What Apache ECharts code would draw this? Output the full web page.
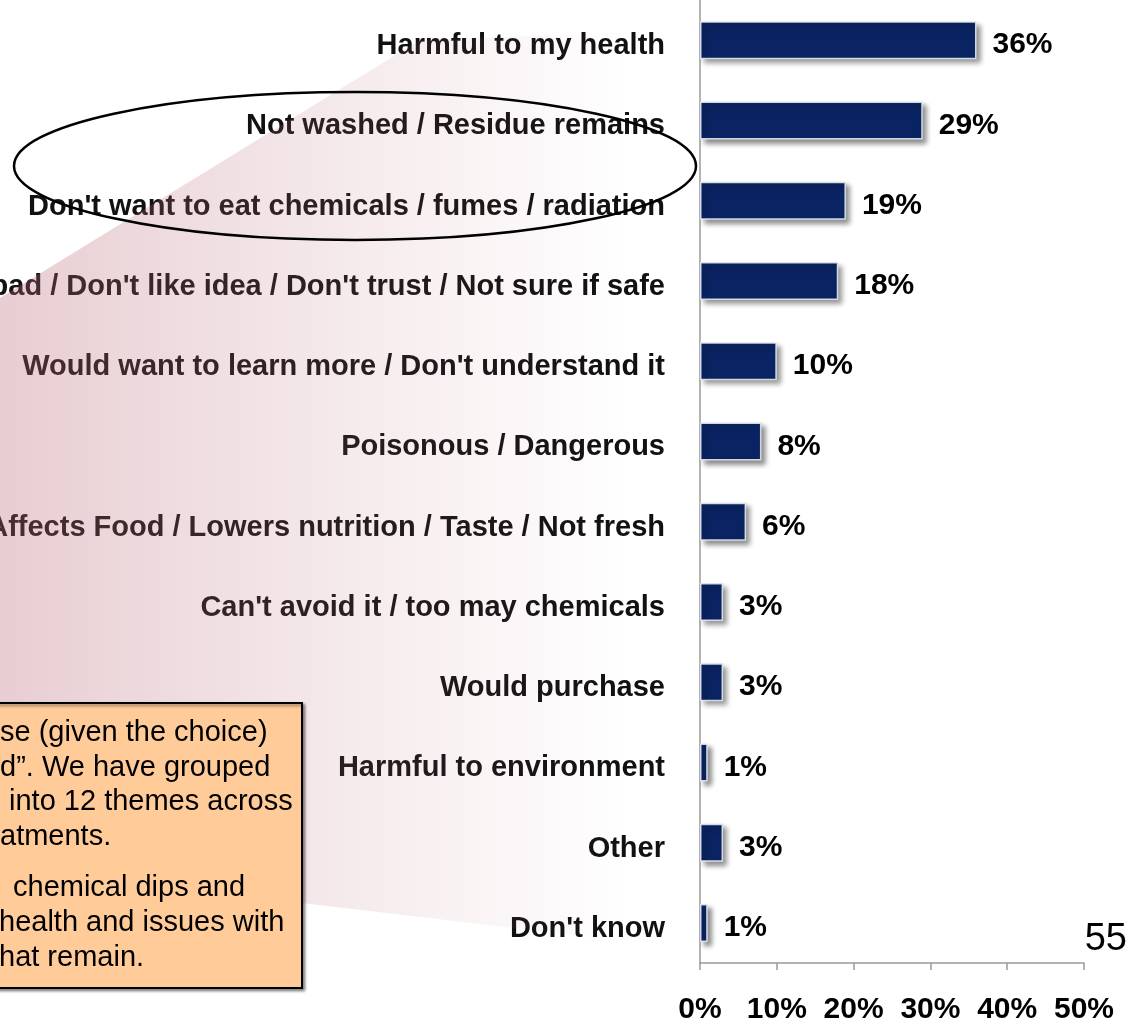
<!DOCTYPE html>
<html>
<head>
<meta charset="utf-8">
<script src="https://cdn.jsdelivr.net/npm/echarts@6/dist/echarts.min.js"></script>
<style>
  html, body { margin: 0; padding: 0; background: #ffffff; }
  #chart { width: 1132px; height: 1026px; }
</style>
</head>
<body>
<div id="chart"></div>
<script>
// Reasons given, top to bottom
const categories = [
  "Harmful to my health",
  "Not washed / Residue remains",
  "Don't want to eat chemicals / fumes / radiation",
  "bad / Don't like idea / Don't trust / Not sure if safe",
  "Would want to learn more / Don't understand it",
  "Poisonous / Dangerous",
  "Affects Food / Lowers nutrition / Taste / Not fresh",
  "Can't avoid it / too may chemicals",
  "Would purchase",
  "Harmful to environment",
  "Other",
  "Don't know"
];
// Share of responses (%)
const shares = [36, 29, 19, 18, 10, 8, 6, 3, 3, 1, 3, 1];
// Horizontal axis ticks (%)
const axisMin = 0;
const axisMax = 50;
const axisStep = 10;
// Note box lines (left edge runs off the page)
const noteLines = [
  "se (given the choice)",
  "d\u201D. We have grouped",
  "into 12 themes across",
  "atments.",
  "chemical dips and",
  "health and issues with",
  "hat remain."
];
const pageNumber = "55";

const FONT = "'Liberation Sans', Arial, Helvetica, sans-serif";
const chart = echarts.init(document.getElementById('chart'), null, { renderer: 'canvas' });

const noteY = [733, 768, 802, 837, 888, 923, 958];
const noteX = [0, 0, 9, 0, 13, -1, -1];

const graphics = [
  // soft pink callout wedge, fading to the right
  {
    type: 'polygon', z: 100, silent: true,
    shape: { points: [[0, 298], [420, 40], [700, 30], [700, 950], [302, 903], [0, 903]] },
    style: {
      fill: new echarts.graphic.LinearGradient(0, 0, 1, 0, [
        { offset: 0, color: 'rgba(185,105,120,0.33)' },
        { offset: 0.55, color: 'rgba(185,105,120,0.12)' },
        { offset: 0.9, color: 'rgba(185,105,120,0.0)' },
        { offset: 1, color: 'rgba(185,105,120,0.0)' }
      ])
    }
  },
  // ellipse around the two residue-related reasons
  {
    type: 'ellipse', z: 110, silent: true,
    shape: { cx: 355, cy: 166, rx: 341, ry: 74 },
    style: { fill: 'none', stroke: '#000000', lineWidth: 2.5 }
  },
  // note box
  {
    type: 'rect', z: 120, silent: true,
    shape: { x: -10, y: 703, width: 312, height: 285 },
    style: {
      fill: '#ffcc99', stroke: '#000000', lineWidth: 2,
      shadowBlur: 3, shadowOffsetX: 2, shadowOffsetY: 2, shadowColor: 'rgba(0,0,0,0.45)'
    }
  },
  {
    type: 'text', z: 130, silent: true,
    x: 1127, y: 940,
    style: { text: pageNumber, font: '38px ' + FONT, fill: '#000000', align: 'right', verticalAlign: 'middle' }
  }
];
noteLines.forEach(function (line, i) {
  graphics.push({
    type: 'text', z: 125, silent: true,
    x: noteX[i], y: noteY[i],
    style: { text: line, font: '29px ' + FONT, fill: '#000000', align: 'left', verticalAlign: 'middle' }
  });
});

chart.setOption({
  backgroundColor: '#ffffff',
  animation: false,
  grid: { left: 700, right: 48, top: 0, bottom: 63, containLabel: false, outerBoundsMode: 'none' },
  xAxis: {
    type: 'value',
    min: axisMin, max: axisMax, interval: axisStep,
    axisLine: { show: true, lineStyle: { color: '#9a9a9a', width: 1.5 } },
    axisTick: { show: true, length: 7, lineStyle: { color: '#9a9a9a', width: 1.5 } },
    splitLine: { show: false },
    axisLabel: {
      formatter: '{value}%', margin: 32,
      fontFamily: FONT, fontSize: 30, fontWeight: 'bold', color: '#000000'
    }
  },
  yAxis: {
    type: 'category', inverse: true,
    data: categories,
    axisLine: { show: true, lineStyle: { color: '#9a9a9a', width: 1.5 } },
    axisTick: { show: false },
    splitLine: { show: false },
    axisLabel: {
      margin: 35, fontFamily: FONT, fontSize: 29, fontWeight: 'bold', color: '#111111',
      verticalAlign: 'top', lineHeight: 12
    }
  },
  series: [{
    type: 'bar',
    data: shares,
    barWidth: 38,
    itemStyle: {
      color: '#0a2463',
      borderColor: 'rgba(225,230,240,0.9)', borderWidth: 1.5,
      shadowBlur: 5, shadowOffsetX: 4, shadowOffsetY: 4, shadowColor: 'rgba(0,0,0,0.45)'
    },
    label: {
      show: true, position: 'right', distance: 16, offset: [0, 5],
      formatter: '{c}%',
      fontFamily: FONT, fontSize: 30, fontWeight: 'bold', color: '#000000'
    }
  }],
  graphic: graphics
});
</script>
</body>
</html>
